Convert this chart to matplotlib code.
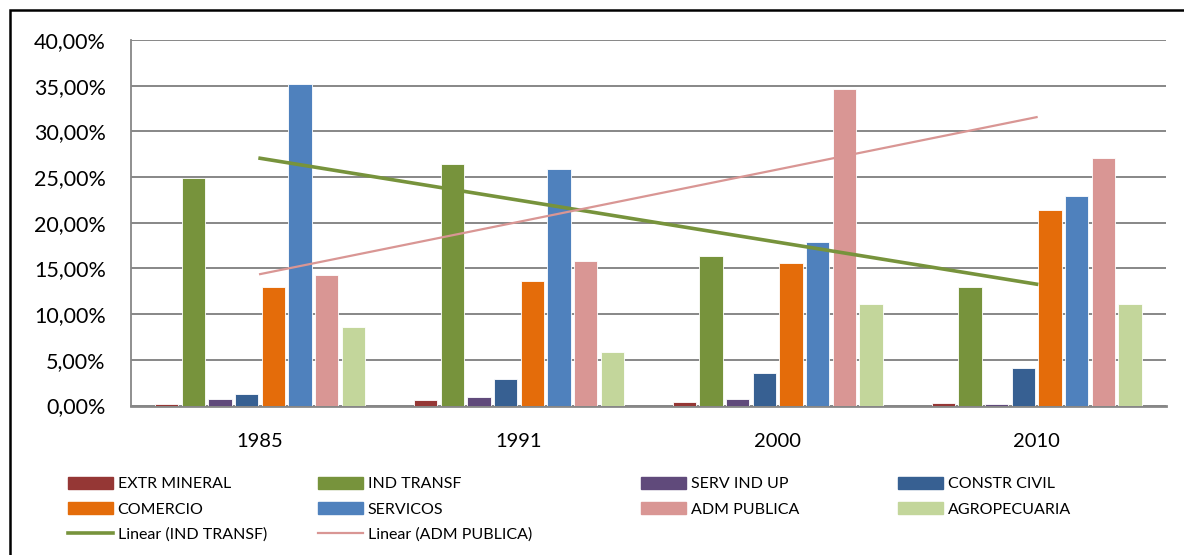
import matplotlib.pyplot as plt
import numpy as np
from matplotlib.lines import Line2D
from matplotlib.patches import Patch, Rectangle
from matplotlib.ticker import FuncFormatter

plt.rcParams['font.family'] = ['Lato', 'DejaVu Sans']

anos = ['1985', '1991', '2000', '2010']
setores = ['EXTR MINERAL', 'IND TRANSF', 'SERV IND UP', 'CONSTR CIVIL',
           'COMERCIO', 'SERVICOS', 'ADM PUBLICA', 'AGROPECUARIA']

# participacao (%) por setor em cada ano
extr_mineral = [0.18, 0.58, 0.36, 0.22]
ind_transf = [24.9, 26.46, 16.35, 12.96]
serv_ind_up = [0.69, 0.88, 0.73, 0.14]
constr_civil = [1.31, 2.88, 3.54, 4.05]
comercio = [12.99, 13.65, 15.62, 21.35]
servicos = [35.2, 25.84, 17.88, 22.9]
adm_publica = [14.3, 15.8, 34.67, 27.1]
agropecuaria = [8.6, 5.88, 11.09, 11.06]

cores = ['#953735', '#77933C', '#604A7B', '#376092',
         '#E46C0A', '#4F81BD', '#D99694', '#C3D69B']

series = [extr_mineral, ind_transf, serv_ind_up, constr_civil,
          comercio, servicos, adm_publica, agropecuaria]

fig = plt.figure(figsize=(11.84, 5.55), dpi=100)
ax = fig.add_axes([130.7 / 1184, 1 - 405.5 / 555, (1166 - 130.7) / 1184, (405.5 - 40) / 555])

x = np.arange(len(anos))
passo = 0.103
largura = 0.09
for j, (valores, cor) in enumerate(zip(series, cores)):
    ax.bar(x + (j - 3.5) * passo, np.array(valores) / 100, largura,
           color=cor, edgecolor='white', linewidth=0.6, zorder=3)

# linhas de tendencia (como no Excel)
for valores, cor, lw in [(ind_transf, '#77933C', 2.6), (adm_publica, '#D99694', 1.6)]:
    a, b = np.polyfit(x, np.array(valores) / 100, 1)
    ax.plot(x, a * x + b, color=cor, linewidth=lw, zorder=4)

ax.set_xlim(-0.5, 3.5)
ax.set_ylim(0, 0.40)
ax.set_yticks(np.arange(0, 0.401, 0.05))
ax.yaxis.set_major_formatter(FuncFormatter(lambda v, p: ('%.2f%%' % (v * 100)).replace('.', ',')))
ax.set_xticks(x)
ax.set_xticklabels(anos)
ax.tick_params(axis='both', length=0, colors='black')
ax.tick_params(axis='y', pad=18, labelsize=15.5)
ax.tick_params(axis='x', pad=20, labelsize=14.5)
ax.grid(axis='y', color='#878787', linewidth=1.4, zorder=0)
for lado in ['top', 'right']:
    ax.spines[lado].set_visible(False)
ax.spines['left'].set_color('#878787')
ax.spines['bottom'].set_color('#878787')
ax.spines['left'].set_linewidth(1.3)
ax.spines['bottom'].set_linewidth(2)

# moldura do grafico
fig.patches.append(Rectangle((10 / 1184, -0.1), 1.2, 1.1 - 10 / 555,
                             transform=fig.transFigure, fill=False,
                             edgecolor='black', linewidth=1.8))

# legenda em 4 colunas
h = [Patch(color=c) for c in cores]
lin_ind = Line2D([], [], color='#77933C', linewidth=2.6)
lin_adm = Line2D([], [], color='#D99694', linewidth=1.6)
colunas = [
    ([h[0], h[4], lin_ind], [setores[0], setores[4], 'Linear (IND TRANSF)'], 68),
    ([h[1], h[5], lin_adm], [setores[1], setores[5], 'Linear (ADM PUBLICA)'], 318),
    ([h[2], h[6]], [setores[2], setores[6]], 641),
    ([h[3], h[7]], [setores[3], setores[7]], 898),
]
for handles, labels, px in colunas:
    fig.legend(handles, labels, loc='upper left',
               bbox_to_anchor=(px / 1184, 1 - 477 / 555),
               frameon=False, fontsize=11.5, borderpad=0, borderaxespad=0,
               handlelength=2.8, handleheight=0.75, handletextpad=0.3,
               labelspacing=0.67)

fig.savefig('out.png', dpi=100)
